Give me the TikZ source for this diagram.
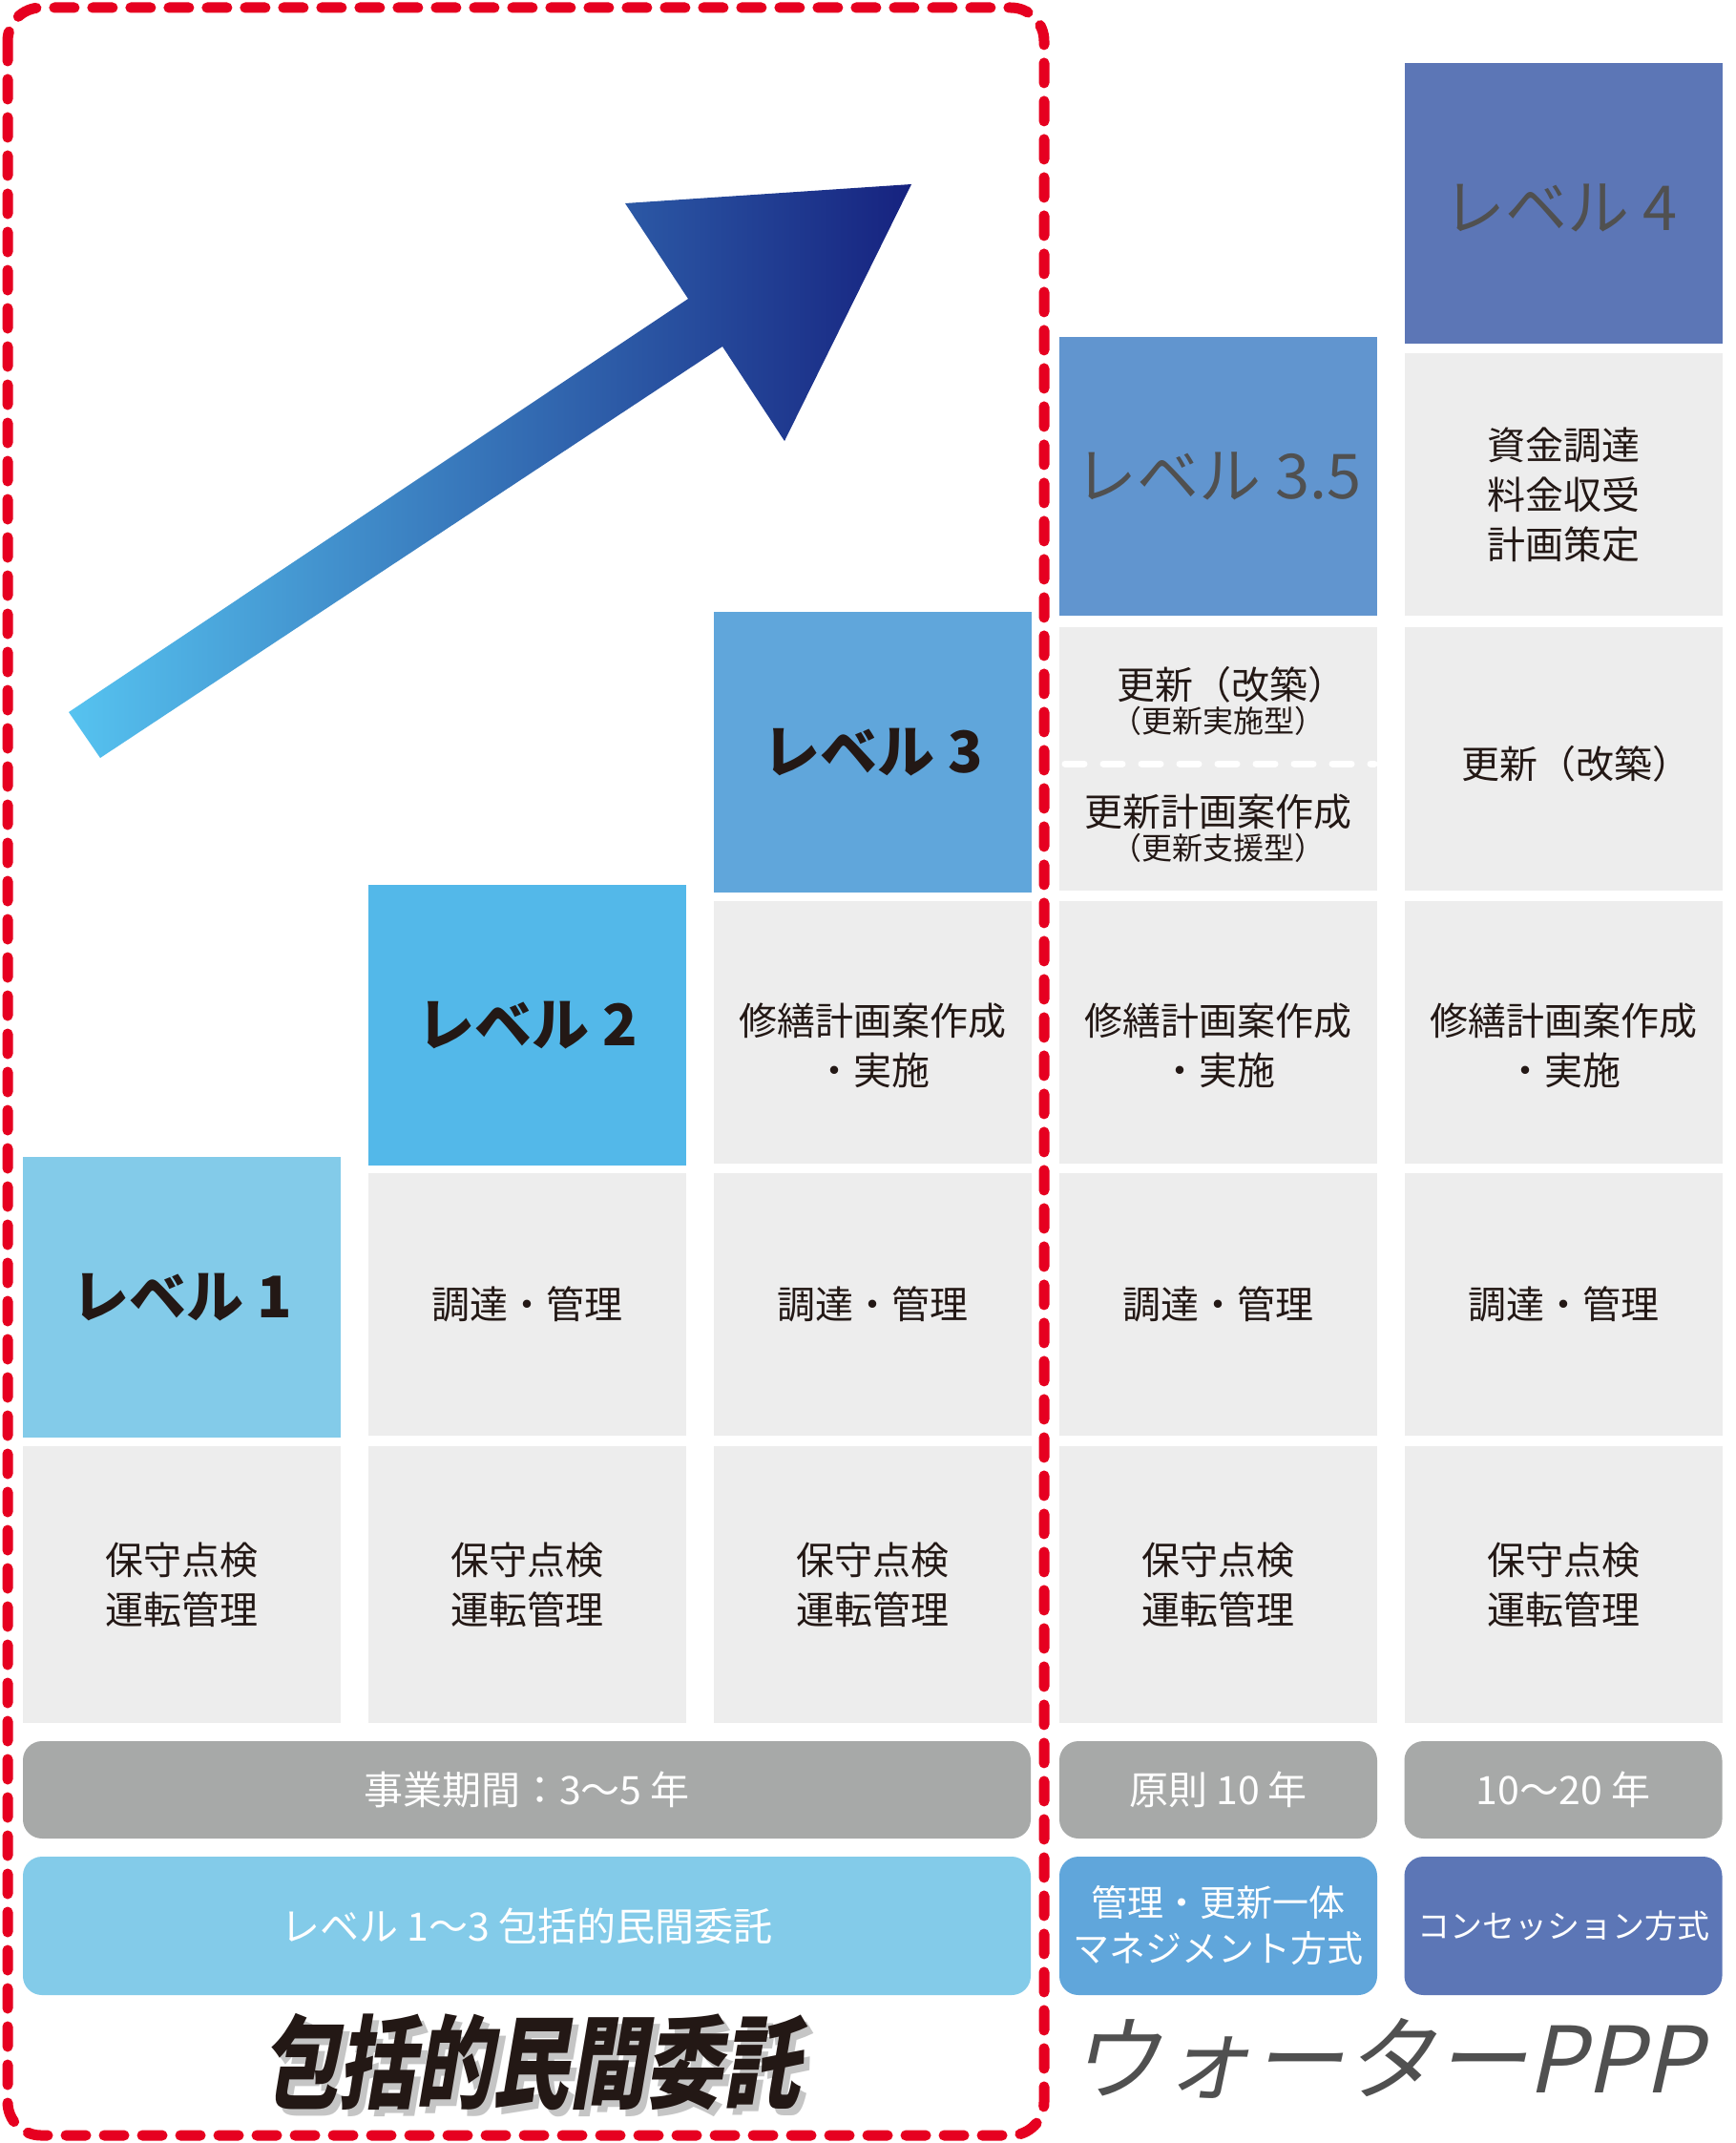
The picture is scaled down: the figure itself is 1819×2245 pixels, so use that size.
\documentclass[tikz,border=0pt]{standalone}
\usepackage{fontspec}
\setmainfont{Noto Sans CJK JP}
\newfontfamily\jpslant[FakeSlant=0.22]{Noto Sans CJK JP}

\definecolor{cellgray}{HTML}{EDEDED}
\definecolor{txt}{HTML}{231815}
\definecolor{lvA}{HTML}{83CBE9}
\definecolor{lvB}{HTML}{53B8E9}
\definecolor{lvC}{HTML}{60A6DB}
\definecolor{lvD}{HTML}{6195CF}
\definecolor{lvE}{HTML}{5C76B6}
\definecolor{pillgray}{HTML}{A7A9A8}
\definecolor{redd}{HTML}{E60020}
\definecolor{lighttxt}{HTML}{505050}
\definecolor{arrL}{HTML}{56C3F0}
\definecolor{arrR}{HTML}{16227F}

\begin{document}
\begin{tikzpicture}[x=1pt,y=-1pt,
  box/.style={inner sep=0pt, outer sep=0pt, minimum width=333pt, align=center, text=txt},
  cell/.style={box, fill=cellgray, font=\fontsize{40}{52}\selectfont},
  celltext/.style={inner sep=0pt, align=center, text=txt, font=\fontsize{40}{52}\selectfont},
  smalltext/.style={inner sep=0pt, align=center, text=txt, font=\fontsize{32}{38}\selectfont},
  lvbold/.style={box, font=\fontsize{60}{70}\selectfont\bfseries},
  lvlight/.style={box, font=\fontsize{65}{70}\selectfont, text=lighttxt},
  pill/.style={rounded corners=20pt, inner sep=0pt, align=center, text=white, font=\fontsize{41}{49}\selectfont},
  redbox/.style={draw=redd, line width=11pt, dash pattern=on 21pt off 19pt, line cap=round, rounded corners=35pt},
  whitedash/.style={draw=white, line width=7pt, dash pattern=on 20pt off 20pt, line cap=round},
]
\useasboundingbox (0,0) rectangle (1819,2245);
\fill[white] (0,0) rectangle (1819,2245);

% ---- level boxes
\node[lvbold, fill=lvA, minimum height=294pt] (lv1) at (190.5,1359) {レベル 1};
\node[lvbold, fill=lvB, minimum height=294pt] (lv2) at (552.5,1074) {レベル 2};
\node[lvbold, fill=lvC, minimum height=294pt] (lv3) at (914.5,788) {レベル 3};
\node[lvlight, fill=lvD, minimum height=292pt] (lv35) at (1276.5,499) {レベル 3.5};
\node[lvlight, fill=lvE, minimum height=294pt] (lv4) at (1638,213) {};
\node[lvlight] (lv4t) at (1635,218) {レベル 4};

% ---- row A
\node[cell, minimum height=275pt] (a5) at (1638,507.5) {};
\node[celltext] (a5t) at (1638,518) {資金調達\\料金収受\\計画策定};

% ---- row B
\node[cell, minimum height=276pt] (b4) at (1276.5,795) {};
\node[celltext] (b4t1) at (1290,717) {更新（改築）};
\node[smalltext] (b4t2) at (1276.5,755) {（更新実施型）};
\node[celltext] (b4t3) at (1276.5,850) {更新計画案作成};
\node[smalltext] (b4t4) at (1276.5,888) {（更新支援型）};
\coordinate (b4dl) at (1116,800);
\coordinate (b4dr) at (1440,800);
\draw[whitedash] (b4dl) -- (b4dr);
\node[cell, minimum height=276pt] (b5) at (1638,795) {};
\node[celltext] (b5t) at (1651,800) {更新（改築）};

% ---- row C
\node[cell, minimum height=275pt] (c3) at (914.5,1081.5) {};
\node[celltext] (c3t) at (914.5,1095) {修繕計画案作成\\・実施};
\node[cell, minimum height=275pt] (c4) at (1276.5,1081.5) {};
\node[celltext] (c4t) at (1276.5,1095) {修繕計画案作成\\・実施};
\node[cell, minimum height=275pt] (c5) at (1638,1081.5) {};
\node[celltext] (c5t) at (1638,1095) {修繕計画案作成\\・実施};

% ---- row D
\node[cell, minimum height=275pt] (d2) at (552.5,1366.5) {調達・管理};
\node[cell, minimum height=275pt] (d3) at (914.5,1366.5) {調達・管理};
\node[cell, minimum height=275pt] (d4) at (1276.5,1366.5) {調達・管理};
\node[cell, minimum height=275pt] (d5) at (1638,1366.5) {調達・管理};

% ---- row E
\node[cell, minimum height=290pt] (e1) at (190.5,1660) {保守点検\\運転管理};
\node[cell, minimum height=290pt] (e2) at (552.5,1660) {保守点検\\運転管理};
\node[cell, minimum height=290pt] (e3) at (914.5,1660) {保守点検\\運転管理};
\node[cell, minimum height=290pt] (e4) at (1276.5,1660) {保守点検\\運転管理};
\node[cell, minimum height=290pt] (e5) at (1638,1660) {保守点検\\運転管理};

% ---- pills
\node[pill, fill=pillgray, minimum width=1056pt, minimum height=102pt] (p1a) at (552,1875) {事業期間：3〜5 年};
\node[pill, fill=pillgray, minimum width=333pt, minimum height=102pt] (p1b) at (1276.5,1875) {原則 10 年};
\node[pill, fill=pillgray, minimum width=333pt, minimum height=102pt] (p1c) at (1638,1875) {10〜20 年};
\node[pill, fill=lvA, minimum width=1056pt, minimum height=145pt] (p2a) at (552,2017.5) {レベル 1〜3 包括的民間委託};
\node[pill, fill=lvC, minimum width=333pt, minimum height=145pt, font=\fontsize{38}{48}\selectfont] (p2b) at (1276.5,2017.5) {管理・更新一体\\マネジメント方式};
\node[pill, fill=lvE, minimum width=333pt, minimum height=145pt, font=\fontsize{34}{40}\selectfont] (p2c) at (1638,2017.5) {コンセッション方式};

% ---- arrow
\coordinate (ar1) at (72,746);
\coordinate (ar2) at (721,313);
\coordinate (ar3) at (655,213);
\coordinate (ar4) at (955,193);
\coordinate (ar5) at (822,462);
\coordinate (ar6) at (757,363);
\coordinate (ar7) at (105,794);
\shade[left color=arrL, right color=arrR] (ar1) -- (ar2) -- (ar3) -- (ar4) -- (ar5) -- (ar6) -- (ar7) -- cycle;

% ---- bottom titles
\node[font=\jpslant\fontsize{106}{110}\selectfont\bfseries, text=gray, opacity=0.45] (t1s) at (562,2167) {\scalebox{0.76}[1]{包括的民間委託}};
\node[font=\jpslant\fontsize{106}{110}\selectfont\bfseries, text=txt] (t1) at (556,2160) {\scalebox{0.76}[1]{包括的民間委託}};
\node[font=\jpslant\fontsize{96}{100}\selectfont, text=lighttxt] (t2) at (1452,2156) {ウォーターPPP};

% ---- red dashed frame
\coordinate (rb1) at (8,8);
\coordinate (rb2) at (1094,2237);
\draw[redbox] (rb1) rectangle (rb2);
\end{tikzpicture}
\end{document}
